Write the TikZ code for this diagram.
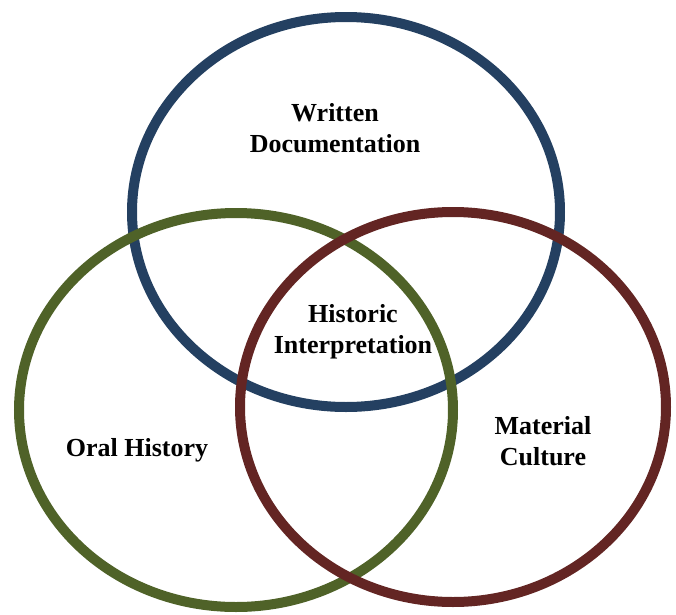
\documentclass[tikz,border=0pt]{standalone}
\usepackage{fontspec}
\setmainfont{Liberation Serif}
\definecolor{writtenblue}{RGB}{36,64,97}
\definecolor{oralgreen}{RGB}{79,98,40}
\definecolor{materialred}{RGB}{99,37,35}
\begin{document}
\begin{tikzpicture}[x=0.75pt, y=-0.75pt,
ring/.style={line width=7.5pt},
lbl/.style={align=center, font=\fontsize{19.5}{23.5}\selectfont\bfseries}]
\useasboundingbox (0,0) rectangle (676,615);
\draw[ring, writtenblue] (346,212) ellipse [x radius=214, y radius=195];
\draw[ring, oralgreen] (236,410) ellipse [x radius=217, y radius=197];
\draw[ring, materialred] (453,407) ellipse [x radius=213, y radius=195];
\node[lbl] (written) at (335,128) {Written\\Documentation};
\node[lbl] (historic) at (353,332) {Historic\\Interpretation};
\node[lbl] (oral) at (137,450) {Oral History};
\node[lbl] (material) at (543,441) {Material\\Culture};
\end{tikzpicture}
\end{document}
